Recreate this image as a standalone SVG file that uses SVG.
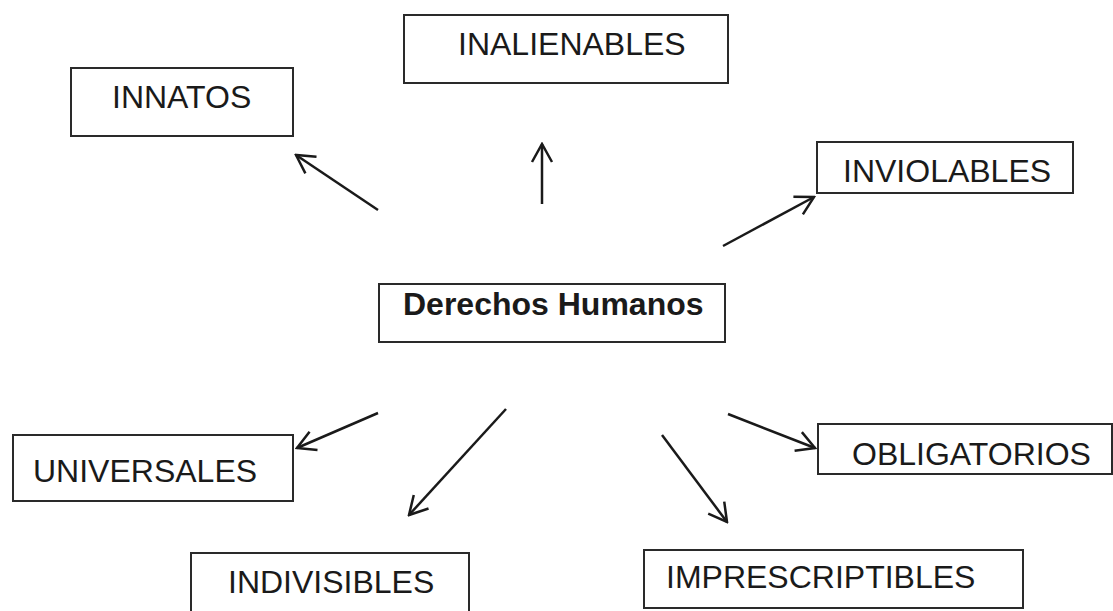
<svg xmlns="http://www.w3.org/2000/svg" width="1113" height="611" viewBox="0 0 1113 611">
<style>
.box{fill:#fff;stroke:#2a2a2a;stroke-width:2}
.lbl{font-family:"Liberation Sans",Arial,sans-serif;font-size:32px;fill:#1a1a1a}
.bold{font-weight:bold}
.conn{stroke:#1a1a1a;stroke-width:2.5;fill:none;marker-end:url(#ah)}
</style>
<defs>
<marker id="ah" viewBox="-22 -12 24 24" refX="0" refY="0" markerWidth="24" markerHeight="24" markerUnits="userSpaceOnUse" orient="auto">
<path d="M-18,-10 L0,0 L-18,10" fill="none" stroke="#1a1a1a" stroke-width="2.5"/>
</marker>
</defs>
<rect width="1113" height="611" fill="#fff"/>
<g id="innatos"><rect class="box" x="71" y="68" width="222" height="68"/><text class="lbl" x="112" y="108">INNATOS</text></g>
<g id="inalienables"><rect class="box" x="404" y="15" width="324" height="68"/><text class="lbl" x="458" y="55">INALIENABLES</text></g>
<g id="inviolables"><rect class="box" x="817" y="142" width="256" height="51"/><text class="lbl" x="843" y="182">INVIOLABLES</text></g>
<g id="derechos"><rect class="box" x="379" y="284" width="346" height="58"/><text class="lbl bold" x="403" y="315">Derechos Humanos</text></g>
<g id="universales"><rect class="box" x="13" y="435" width="280" height="66"/><text class="lbl" x="33" y="482">UNIVERSALES</text></g>
<g id="obligatorios"><rect class="box" x="818" y="424" width="294" height="50"/><text class="lbl" x="852" y="465">OBLIGATORIOS</text></g>
<g id="indivisibles"><rect class="box" x="191" y="553" width="278" height="65"/><text class="lbl" x="228" y="593">INDIVISIBLES</text></g>
<g id="imprescriptibles"><rect class="box" x="644" y="550" width="379" height="58"/><text class="lbl" x="666" y="588">IMPRESCRIPTIBLES</text></g>
<g id="connectors">
<line class="conn" x1="378" y1="210" x2="296" y2="155"/>
<line class="conn" x1="542" y1="204" x2="542" y2="144"/>
<line class="conn" x1="723" y1="246" x2="814" y2="197"/>
<line class="conn" x1="378" y1="413" x2="297" y2="448"/>
<line class="conn" x1="506" y1="409" x2="409" y2="515"/>
<line class="conn" x1="662" y1="435" x2="727" y2="522"/>
<line class="conn" x1="728" y1="414" x2="815" y2="448"/>
</g>
</svg>
